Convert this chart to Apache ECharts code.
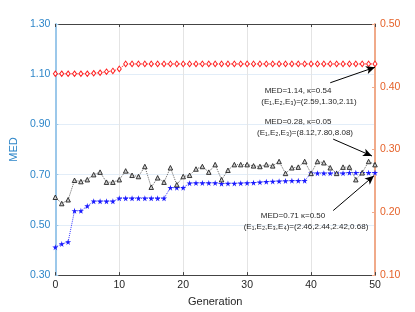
<!DOCTYPE html>
<html>
<head>
<meta charset="utf-8">
<script src="https://cdn.jsdelivr.net/npm/echarts@6/dist/echarts.min.js"></script>
<style>html,body{margin:0;padding:0;background:#fff}#c{width:415px;height:312px}</style>
</head>
<body>
<div id="c"></div>
<script>
const generations = Array.from({length: 51}, (_, i) => i);
const xTicks = [0, 10, 20, 30, 40, 50];
const leftTicks = [0.30, 0.50, 0.70, 0.90, 1.10, 1.30];
const rightTicks = [0.10, 0.20, 0.30, 0.40, 0.50];

const redMED = [1.102,1.102,1.102,1.102,1.102,1.102,1.104,1.106,1.110,1.113,1.121,
  1.141,1.141,1.141,1.141,1.141,1.141,1.141,1.141,1.141,1.141,
  1.141,1.141,1.141,1.141,1.141,1.141,1.141,1.141,1.141,1.141,
  1.141,1.141,1.141,1.141,1.141,1.141,1.141,1.141,1.141,1.141,
  1.141,1.141,1.141,1.141,1.141,1.141,1.141,1.141,1.141,1.141];

const blackMED = [0.224,0.214,0.220,0.251,0.249,0.252,0.260,0.264,0.248,0.248,
  0.252,0.266,0.259,0.257,0.273,0.240,0.255,0.248,0.271,0.244,
  0.257,0.259,0.269,0.273,0.264,0.276,0.252,0.267,0.276,0.276,
  0.276,0.274,0.273,0.276,0.274,0.281,0.262,0.271,0.272,0.281,
  0.262,0.281,0.279,0.271,0.262,0.272,0.272,0.252,0.263,0.281,0.276];

const blueMED = [0.411,0.424,0.432,0.556,0.556,0.575,0.594,0.594,0.594,0.594,
  0.606,0.606,0.606,0.606,0.606,0.606,0.606,0.606,0.648,0.648,
  0.648,0.666,0.667,0.667,0.667,0.667,0.664,0.665,0.665,0.666,
  0.667,0.668,0.670,0.672,0.673,0.674,0.675,0.676,0.676,0.676,
  0.706,0.706,0.706,0.706,0.706,0.706,0.708,0.708,0.708,0.708,0.708];

const annotations = [
  {lines: ['MED=1.14, κ=0.54', '(E₁,E₂,E₃)=(2.59,1.30,2.11)'], arrowFrom: [43.0, 1.066], arrowTo: [50, 1.128]},
  {lines: ['MED=0.28, κ=0.05', '(E₁,E₂,E₃)=(8.12,7.80,8.08)'], arrowFrom: [43.46, 0.3166], arrowTo: [49.53, 0.2897]},
  {lines: ['MED=0.71 κ=0.50', '(E₁,E₂,E₃,E₄)=(2.46,2.44,2.42,0.68)'], arrowFrom: [43.46, 0.557], arrowTo: [49.84, 0.6956]}
];

const FONT = '"Liberation Sans", Arial, sans-serif';
const LEFT_C = '#2e86c9';
const RIGHT_C = '#e5622a';
const TXT = '#262626';
const starPath = 'path://M50,0 L61,35 L98,35 L68,57 L79,91 L50,70 L21,91 L32,57 L2,35 L39,35 Z';

function arrow(a) {
  return {
    symbol: ['none', 'arrow'],
    symbolSize: [6, 9],
    silent: true,
    animation: false,
    label: {show: false},
    lineStyle: {color: '#000', width: 1, type: 'solid'},
    emphasis: {disabled: true},
    data: [[{coord: a.arrowFrom}, {coord: a.arrowTo}]]
  };
}

const chart = echarts.init(document.getElementById('c'), null, {renderer: 'canvas'});
const fmt2 = v => v.toFixed(2);

const textEl = (x, y, t) => ({
  type: 'text', x: x, y: y, z: 100,
  style: {text: t, fill: TXT, font: '8px ' + FONT, align: 'center', verticalAlign: 'middle'}
});

chart.setOption({
  animation: false,
  backgroundColor: '#fff',
  grid: {left: 54, right: 40, top: 24, bottom: 35},
  xAxis: [
    {
      type: 'value', min: 0, max: 50, interval: 10, position: 'bottom',
      name: 'Generation', nameLocation: 'middle', nameGap: 17,
      nameTextStyle: {color: TXT, fontSize: 11, fontFamily: FONT},
      axisLine: {show: true, onZero: false, lineStyle: {color: '#444', width: 1}},
      axisTick: {show: true, inside: true, length: 3, lineStyle: {color: '#444'}},
      axisLabel: {color: TXT, fontSize: 10.5, fontFamily: FONT, margin: 5},
      splitLine: {show: true, lineStyle: {color: '#e4e4e4', width: 1}}
    },
    {
      type: 'value', min: 0, max: 50, interval: 10, position: 'top',
      axisLine: {show: true, onZero: false, lineStyle: {color: '#444', width: 1}},
      axisTick: {show: true, inside: true, length: 3, lineStyle: {color: '#444'}},
      axisLabel: {show: false},
      splitLine: {show: false}
    }
  ],
  yAxis: [
    {
      type: 'value', min: 0.3, max: 1.3, interval: 0.2, position: 'left',
      name: 'MED', nameLocation: 'middle', nameGap: 29, nameRotate: 90,
      nameTextStyle: {color: LEFT_C, fontSize: 11, fontFamily: FONT},
      axisLine: {show: true, onZero: false, lineStyle: {color: '#9cc8ea', width: 2}},
      axisTick: {show: true, inside: true, length: 3, lineStyle: {color: '#9cc8ea'}},
      axisLabel: {color: LEFT_C, fontSize: 10.5, fontFamily: FONT, margin: 5, formatter: fmt2},
      splitLine: {show: true, lineStyle: {color: '#e2edf8', width: 1}}
    },
    {
      type: 'value', min: 0.1, max: 0.5, interval: 0.1, position: 'right',
      axisLine: {show: true, onZero: false, lineStyle: {color: '#f0aa8a', width: 2}},
      axisTick: {show: true, inside: true, length: 3, lineStyle: {color: '#f0aa8a'}},
      axisLabel: {color: RIGHT_C, fontSize: 10.5, fontFamily: FONT, margin: 5, formatter: fmt2},
      splitLine: {show: false}
    }
  ],
  series: [
    {
      type: 'line', xAxisIndex: 0, yAxisIndex: 0, z: 3,
      data: generations.map((g, i) => [g, redMED[i]]),
      symbol: 'diamond', symbolSize: [4, 5.5], showAllSymbol: true,
      itemStyle: {color: '#fff', borderColor: '#ff2020', borderWidth: 1},
      lineStyle: {color: '#ff2020', width: 1, type: 'dotted'},
      markLine: arrow(annotations[0])
    },
    {
      type: 'line', xAxisIndex: 0, yAxisIndex: 1, z: 4,
      data: generations.map((g, i) => [g, blackMED[i]]),
      symbol: 'triangle', symbolSize: [4.5, 4.5], showAllSymbol: true,
      itemStyle: {color: '#cfcfcf', borderColor: '#222', borderWidth: 0.9},
      lineStyle: {color: '#666', width: 1, type: 'dotted'},
      markLine: arrow(annotations[1])
    },
    {
      type: 'line', xAxisIndex: 0, yAxisIndex: 0, z: 3,
      data: generations.map((g, i) => [g, blueMED[i]]),
      symbol: starPath, symbolSize: 6, showAllSymbol: true,
      itemStyle: {color: '#1a1aff', borderWidth: 0},
      lineStyle: {color: '#3a3aff', width: 1, type: 'dotted'},
      markLine: arrow(annotations[2])
    }
  ],
  graphic: [
    textEl(298, 91, annotations[0].lines[0]),
    textEl(309, 101.5, annotations[0].lines[1]),
    textEl(298, 122, annotations[1].lines[0]),
    textEl(305, 133, annotations[1].lines[1]),
    textEl(293, 216, annotations[2].lines[0]),
    textEl(306, 227, annotations[2].lines[1])
  ]
});
</script>
</body>
</html>
